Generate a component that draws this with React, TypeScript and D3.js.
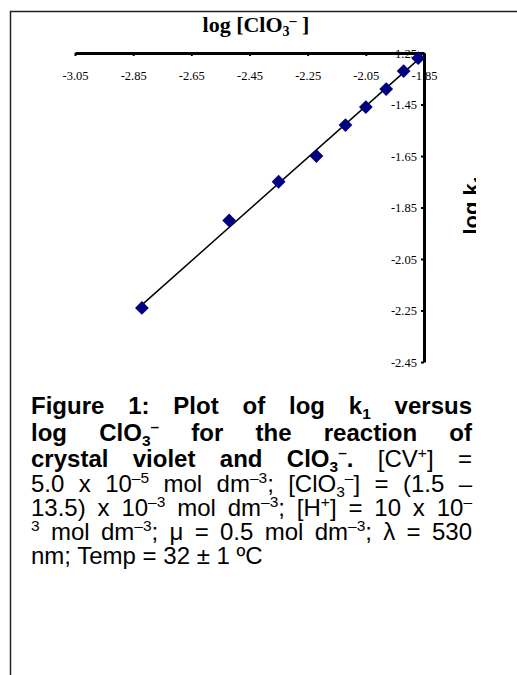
import React, { useEffect, useRef } from "react";
import * as d3 from "d3";

// log [ClO3-] values (x) and log k1 values (y)
const logClO3 = [-2.82, -2.52, -2.35, -2.22, -2.12, -2.05, -1.98, -1.92, -1.87];
const logK1 = [-2.24, -1.9, -1.75, -1.65, -1.53, -1.46, -1.39, -1.32, -1.27];

const xTicks = [-3.05, -2.85, -2.65, -2.45, -2.25, -2.05, -1.85];
const yTicks = [-1.25, -1.45, -1.65, -1.85, -2.05, -2.25, -2.45];

type Seg = { t: string; b?: boolean; s?: "sup" | "sub" };

// caption, one entry per printed line
const captionLines: Seg[][] = [
  [{ t: "Figure 1: Plot of log k", b: true }, { t: "1", b: true, s: "sub" }, { t: " versus", b: true }],
  [{ t: "log ClO", b: true }, { t: "3", b: true, s: "sub" }, { t: "\u2013", b: true, s: "sup" }, { t: " for the reaction of", b: true }],
  [
    { t: "crystal violet and ClO", b: true },
    { t: "3", b: true, s: "sub" },
    { t: "\u2013", b: true, s: "sup" },
    { t: ".", b: true },
    { t: " [CV" },
    { t: "+", s: "sup" },
    { t: "] =" },
  ],
  [
    { t: "5.0 x 10" },
    { t: "\u20135", s: "sup" },
    { t: " mol dm" },
    { t: "\u20133", s: "sup" },
    { t: "; [ClO" },
    { t: "3", s: "sub" },
    { t: "\u2013", s: "sup" },
    { t: "] = (1.5 \u2013" },
  ],
  [
    { t: "13.5) x 10" },
    { t: "\u20133", s: "sup" },
    { t: " mol dm" },
    { t: "\u20133", s: "sup" },
    { t: "; [H" },
    { t: "+", s: "sup" },
    { t: "] = 10 x 10" },
    { t: "\u2013", s: "sup" },
  ],
  [
    { t: "3", s: "sup" },
    { t: " mol dm" },
    { t: "\u20133", s: "sup" },
    { t: "; \u03bc = 0.5 mol dm" },
    { t: "\u20133", s: "sup" },
    { t: "; \u03bb = 530" },
  ],
  [{ t: "nm; Temp = 32 \u00b1 1 \u00baC" }],
];
const captionBaselines = [414, 441, 467, 492, 516, 540, 564];

const App = () => {
  const ref = useRef<SVGSVGElement>(null);

  useEffect(() => {
    const svg = d3.select(ref.current);
    svg.selectAll("*").remove();

    // page border (figure frame continues off the right and bottom)
    svg.append("path")
      .attr("d", "M10.5,675V11.5H517")
      .attr("fill", "none")
      .attr("stroke", "#222")
      .attr("stroke-width", 1.5);

    const x = d3.scaleLinear().domain([-3.05, -1.85]).range([75, 424]);
    const y = d3.scaleLinear().domain([-2.45, -1.25]).range([362, 53]);

    const g = svg.append("g");

    // x axis sits on top (crosses at y = -1.25)
    const xAxis = g.append("g")
      .attr("transform", `translate(0,${y(-1.25)})`)
      .call(
        d3.axisBottom(x)
          .tickValues(xTicks)
          .tickSizeInner(3)
          .tickSizeOuter(0)
          .tickPadding(15)
          .tickFormat((d) => (d as number).toFixed(2))
      );
    xAxis.select(".domain").attr("stroke-width", 3);
    xAxis.selectAll(".tick line").attr("stroke-width", 2);
    xAxis.selectAll("text")
      .attr("font-family", "'Liberation Serif', 'Times New Roman', serif")
      .attr("font-size", 12.5)
      .attr("fill", "#000");

    // y axis on the right end of the x range
    const yAxis = g.append("g")
      .attr("transform", `translate(${x(-1.85)},0)`)
      .call(
        d3.axisLeft(y)
          .tickValues(yTicks)
          .tickSizeInner(3)
          .tickSizeOuter(0)
          .tickPadding(4)
          .tickFormat((d) => (d as number).toFixed(2))
      );
    yAxis.select(".domain").attr("stroke-width", 3);
    yAxis.selectAll(".tick line").attr("stroke-width", 2);
    yAxis.selectAll("text")
      .attr("font-family", "'Liberation Serif', 'Times New Roman', serif")
      .attr("font-size", 12.5)
      .attr("fill", "#000");

    // least squares trend line
    const pts = logClO3.map((v, i) => [v, logK1[i]] as [number, number]);
    const mx = d3.mean(logClO3) as number;
    const my = d3.mean(logK1) as number;
    const slope =
      (d3.sum(pts, (p) => (p[0] - mx) * (p[1] - my)) as number) /
      (d3.sum(pts, (p) => (p[0] - mx) ** 2) as number);
    const icpt = my - slope * mx;
    const x0 = d3.min(logClO3) as number;
    const x1 = d3.max(logClO3) as number;
    g.append("path")
      .datum([[x0, slope * x0 + icpt], [x1, slope * x1 + icpt]])
      .attr("d", d3.line<number[]>().x((d) => x(d[0])).y((d) => y(d[1])))
      .attr("stroke", "#000")
      .attr("stroke-width", 1.5)
      .attr("fill", "none");

    // diamond markers
    g.selectAll(".pt")
      .data(pts)
      .join("path")
      .attr("class", "pt")
      .attr("d", d3.symbol(d3.symbolSquare, 95)())
      .attr("transform", (d) => `translate(${x(d[0])},${y(d[1])}) rotate(45)`)
      .attr("fill", "#000080");

    // axis titles
    const t = svg.append("text")
      .attr("x", 256)
      .attr("y", 32)
      .attr("text-anchor", "middle")
      .attr("font-family", "'Liberation Serif', 'Times New Roman', serif")
      .attr("font-weight", "bold")
      .attr("font-size", 22);
    t.append("tspan").text("log [ClO");
    t.append("tspan").attr("font-size", 14).attr("dy", 4).text("3");
    t.append("tspan").attr("font-size", 14).attr("dy", -11).text("\u2013");
    t.append("tspan").attr("dy", 7).text(" ]");

    // the y title is cut off by its text box on the right
    svg.append("clipPath").attr("id", "klip")
      .append("rect").attr("x", 440).attr("y", 100).attr("width", 36).attr("height", 200);
    const k = svg.append("g")
      .attr("clip-path", "url(#klip)")
      .append("text")
      .attr("transform", "translate(479,205) rotate(-90)")
      .attr("text-anchor", "middle")
      .attr("font-family", "'Liberation Sans', Arial, sans-serif")
      .attr("font-weight", "bold")
      .attr("font-size", 22);
    k.append("tspan").text("log k");
    k.append("tspan").attr("font-size", 14).attr("dy", 5).text("1");

    // caption, justified line by line like the document text
    const left = 31;
    const right = 472;
    const fs = 24;
    captionLines.forEach((line, li) => {
      const txt = svg.append("text")
        .attr("x", left)
        .attr("y", captionBaselines[li])
        .attr("font-family", "'Liberation Sans', Arial, sans-serif")
        .attr("font-size", fs)
        .attr("fill", "#000");
      let shift = 0;
      line.forEach((s) => {
        const want = s.s === "sup" ? -9 : s.s === "sub" ? 5 : 0;
        txt.append("tspan")
          .attr("dy", want - shift)
          .attr("font-size", s.s ? 15.5 : fs)
          .attr("font-weight", s.b ? "bold" : "normal")
          .text(s.t);
        shift = want;
      });
      if (li < captionLines.length - 1) {
        const node = txt.node() as SVGTextElement;
        const w = node.getComputedTextLength();
        const gaps = line.reduce((n, s) => n + (s.t.match(/ /g) || []).length, 0);
        if (gaps > 0) txt.attr("word-spacing", (right - left - w) / gaps);
      }
    });
  }, []);

  return (
    <div style={{ position: "absolute", left: 0, top: 0 }}>
      <svg ref={ref} width={517} height={675} style={{ display: "block", background: "#fff" }} />
    </div>
  );
};

export default App;
